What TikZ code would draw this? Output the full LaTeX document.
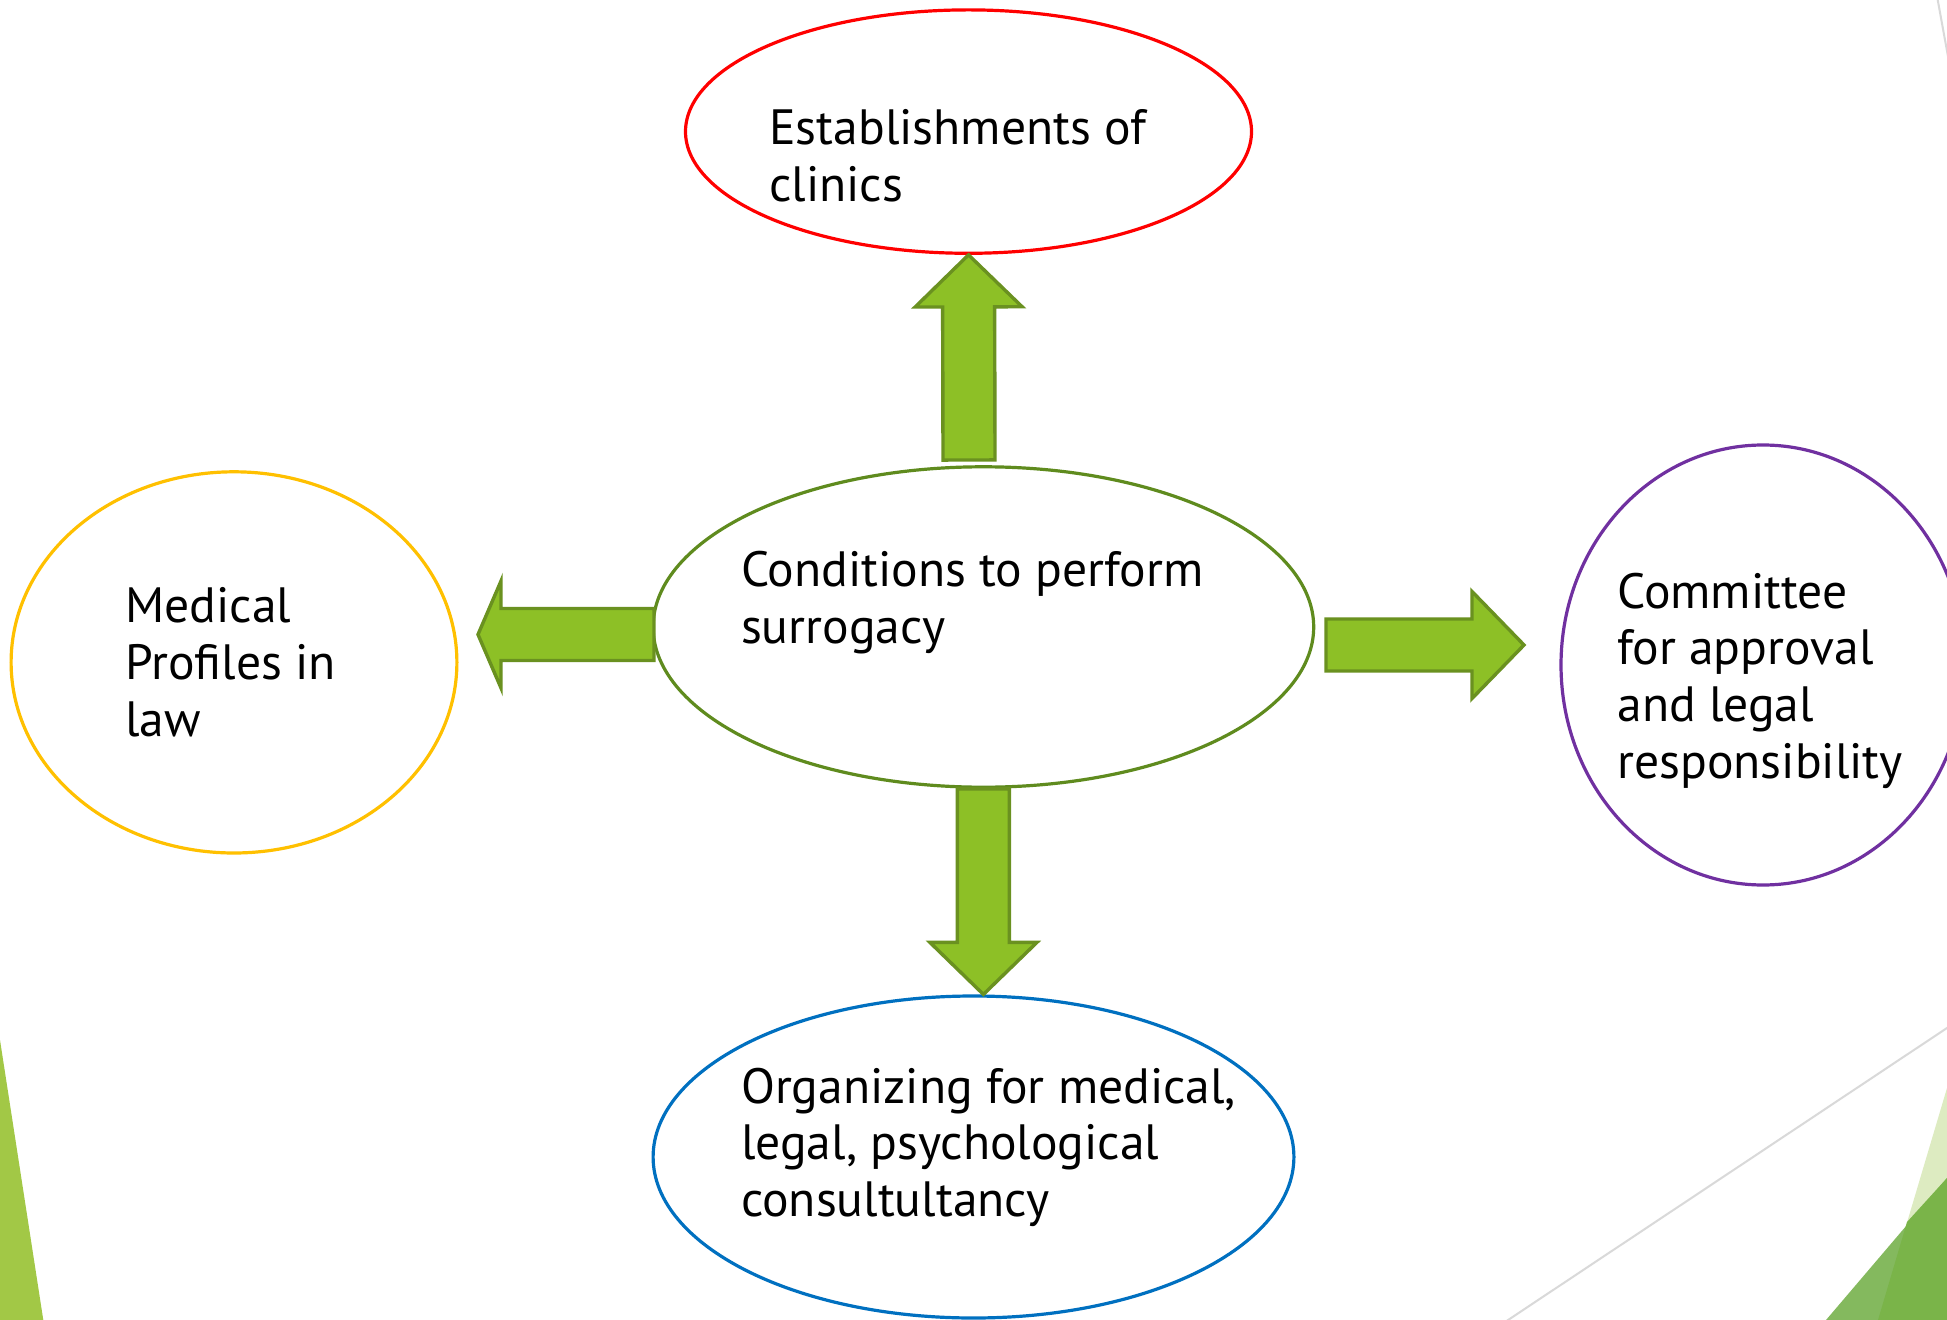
\documentclass[tikz,border=0pt]{standalone}
\usepackage{fontspec}
\setmainfont{PT Sans}
\usetikzlibrary{calc, positioning, shapes.geometric}

\definecolor{arrowfill}{HTML}{8DC026}
\definecolor{arrowline}{HTML}{6A9120}
\definecolor{condline}{HTML}{5F8B1E}
\definecolor{clinicred}{HTML}{FF0000}
\definecolor{lawyellow}{HTML}{FFC000}
\definecolor{committeepurple}{HTML}{7030A0}
\definecolor{consultblue}{HTML}{0070C0}
\definecolor{decogreen}{HTML}{A2C846}
\definecolor{decolight}{HTML}{DDEBC1}
\definecolor{decomid}{HTML}{84B95E}
\definecolor{decodark}{HTML}{7AB449}
\definecolor{decogray}{HTML}{D9D9D9}

% block arrow: tail, tip, head length
\newcommand{\blockarrow}[3]{%
  \coordinate (ba-h) at ($(#2)!#3!(#1)$);
  \filldraw[blockarrow] ($(#1)!13pt!90:(#2)$) -- ($(ba-h)!13pt!90:(#2)$)
    -- ($(ba-h)!26.75pt!90:(#2)$) -- (#2) -- ($(ba-h)!26.75pt!-90:(#2)$)
    -- ($(ba-h)!13pt!-90:(#2)$) -- ($(#1)!13pt!-90:(#2)$) -- cycle;
}

\begin{document}
\begin{tikzpicture}[x=0.5pt,y=-0.5pt,
  bubble/.style={ellipse, draw, line width=1.6pt, inner sep=0pt},
  txt/.style={anchor=base west, inner sep=0pt, align=left,
    font=\fontsize{24.8pt}{28.35pt}\selectfont},
  blockarrow/.style={fill=arrowfill, draw=arrowline, line width=1.7pt}]
  \clip (0,0) rectangle (1947,1320);
  \fill[white] (0,0) rectangle (1947,1320);

  % background decoration
  \fill[decogreen] (0,1040) -- (43.3,1320) -- (0,1320) -- cycle;
  \fill[decolight] (1947,1088) -- (1878,1320) -- (1947,1320) -- cycle;
  \fill[decomid] (1947,1178) -- (1826,1320) -- (1947,1320) -- cycle;
  \fill[decodark] (1907,1222) -- (1947,1178) -- (1947,1320) -- (1878,1320) -- cycle;
  \draw[decogray, line width=1pt] (1937.7,0) -- (1955,95);
  \draw[decogray, line width=1pt] (1962,1018) -- (1490,1332);

  % ellipses
  \node[bubble, draw=clinicred, minimum width=283pt, minimum height=121.7pt] (estab) at (968.5,131.6) {};
  \node[bubble, draw=condline, minimum width=330.3pt, minimum height=160.2pt] (cond) at (983.4,627) {};
  \node[bubble, draw=lawyellow, minimum width=222.9pt, minimum height=190.6pt] (law) at (234,662.4) {};
  \node[bubble, draw=committeepurple, minimum width=202pt, minimum height=220pt] (committee) at (1763,665) {};
  \node[bubble, draw=consultblue, minimum width=320.4pt, minimum height=161pt] (consult) at (973.5,1157) {};

  % texts (anchored at the last baseline)
  \node[txt] (estabtxt) at (769,201.7) {Establishments of\\clinics};
  \node[txt] (condtxt) at (740.7,643.4) {Conditions to perform\\surrogacy};
  \node[txt] (lawtxt) at (125,736.1) {Medical\\Profiles in\\law};
  \node[txt] (committeetxt) at (1617,778.1) {Committee\\for approval\\and legal\\responsibility};
  \node[txt] (consulttxt) at (740.7,1216.4) {Organizing for medical,\\legal, psychological\\consultultancy};

  % arrows
  \coordinate (uptail) at (969,460);
  \coordinate (lefttail) at (654,634.5);
  \coordinate (lefttip) at (478,634.5);
  \coordinate (righttail) at (1326,645);
  \coordinate (righttip) at (1524,645);
  \blockarrow{uptail}{estab.south}{26pt}
  \blockarrow{cond.south}{cond.south |- consult.north}{26pt}
  \blockarrow{lefttail}{lefttip}{11.5pt}
  \blockarrow{righttail}{righttip}{26pt}
\end{tikzpicture}
\end{document}
